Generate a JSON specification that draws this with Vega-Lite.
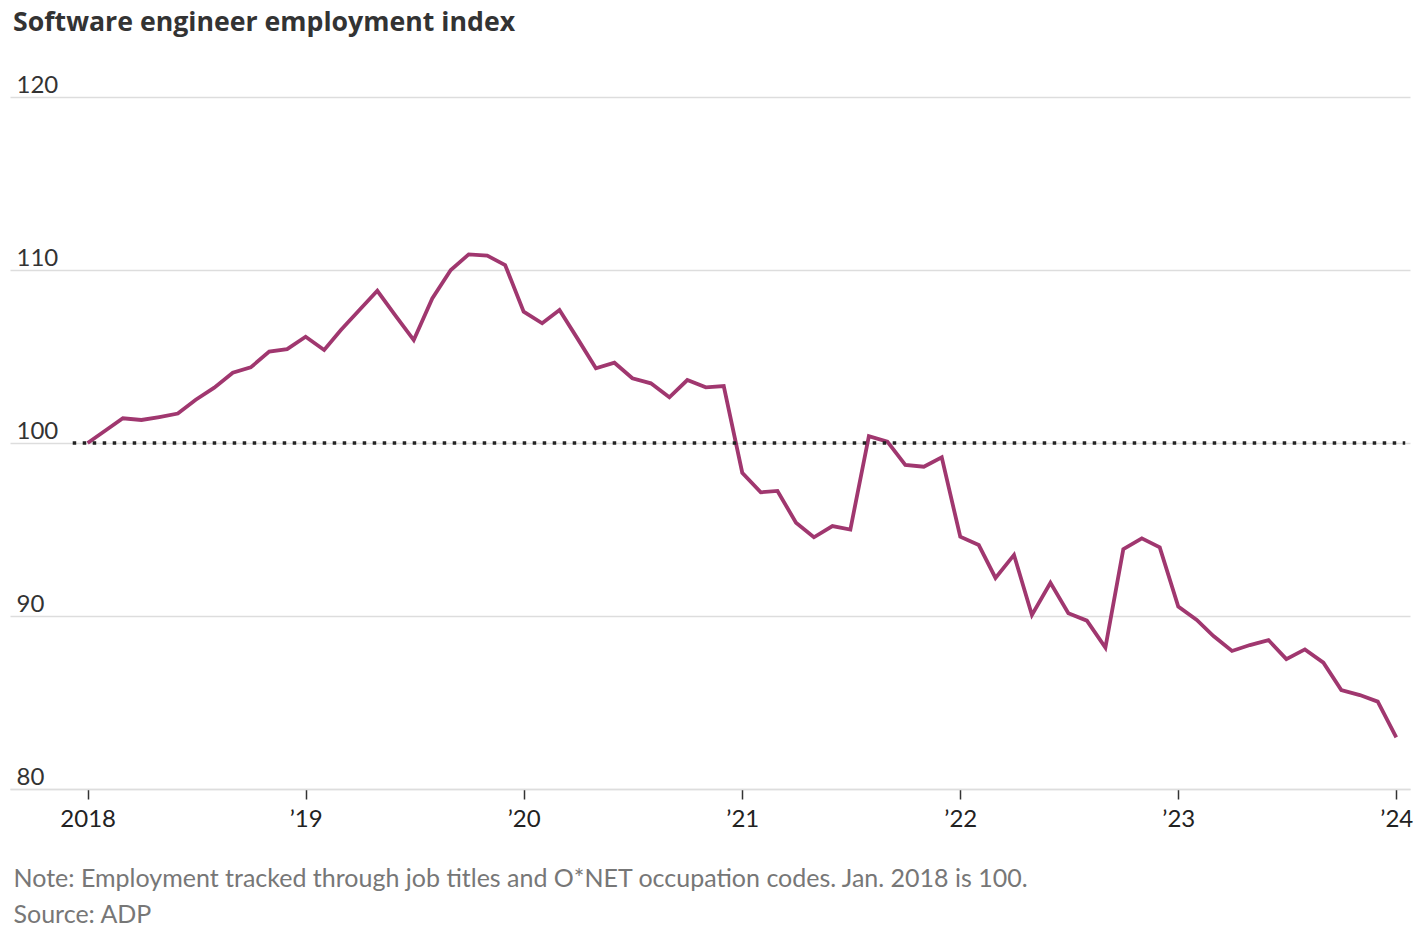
{
  "$schema": "https://vega.github.io/schema/vega-lite/v6.json",
  "autosize": {"type": "none"},
  "width": 1400,
  "height": 692,
  "padding": {"left": 10, "top": 97, "right": 14, "bottom": 147},
  "background": "white",
  "config": {"view": {"stroke": null}},
  "title": {
    "text": "Software engineer employment index",
    "anchor": "start",
    "frame": "group",
    "dx": 3,
    "font": "Open Sans",
    "fontSize": 26.7,
    "fontWeight": "bold",
    "color": "#333333",
    "offset": 36
  },
  "datasets": {
    "series": [
      {"date": "2018-01-01", "value": 100.0},
      {"date": "2018-02-01", "value": 100.75},
      {"date": "2018-03-01", "value": 101.43},
      {"date": "2018-04-01", "value": 101.33},
      {"date": "2018-05-01", "value": 101.5},
      {"date": "2018-06-01", "value": 101.7},
      {"date": "2018-07-01", "value": 102.5},
      {"date": "2018-08-01", "value": 103.2},
      {"date": "2018-09-01", "value": 104.06},
      {"date": "2018-10-01", "value": 104.37},
      {"date": "2018-11-01", "value": 105.28},
      {"date": "2018-12-01", "value": 105.43},
      {"date": "2019-01-01", "value": 106.14},
      {"date": "2019-02-01", "value": 105.38},
      {"date": "2019-03-01", "value": 106.53},
      {"date": "2019-04-01", "value": 107.69},
      {"date": "2019-05-01", "value": 108.8},
      {"date": "2019-06-01", "value": 107.34},
      {"date": "2019-07-01", "value": 105.95},
      {"date": "2019-08-01", "value": 108.36},
      {"date": "2019-09-01", "value": 110.0},
      {"date": "2019-10-01", "value": 110.9},
      {"date": "2019-11-01", "value": 110.83},
      {"date": "2019-12-01", "value": 110.29},
      {"date": "2020-01-01", "value": 107.59},
      {"date": "2020-02-01", "value": 106.92},
      {"date": "2020-03-01", "value": 107.69},
      {"date": "2020-04-01", "value": 105.99},
      {"date": "2020-05-01", "value": 104.32},
      {"date": "2020-06-01", "value": 104.64},
      {"date": "2020-07-01", "value": 103.74},
      {"date": "2020-08-01", "value": 103.45},
      {"date": "2020-09-01", "value": 102.64},
      {"date": "2020-10-01", "value": 103.64},
      {"date": "2020-11-01", "value": 103.22},
      {"date": "2020-12-01", "value": 103.29},
      {"date": "2021-01-01", "value": 98.28},
      {"date": "2021-02-01", "value": 97.15},
      {"date": "2021-03-01", "value": 97.23},
      {"date": "2021-04-01", "value": 95.39},
      {"date": "2021-05-01", "value": 94.55},
      {"date": "2021-06-01", "value": 95.2},
      {"date": "2021-07-01", "value": 95.0},
      {"date": "2021-08-01", "value": 100.4},
      {"date": "2021-09-01", "value": 100.08},
      {"date": "2021-10-01", "value": 98.73},
      {"date": "2021-11-01", "value": 98.63},
      {"date": "2021-12-01", "value": 99.17},
      {"date": "2022-01-01", "value": 94.58},
      {"date": "2022-02-01", "value": 94.1},
      {"date": "2022-03-01", "value": 92.2},
      {"date": "2022-04-01", "value": 93.53},
      {"date": "2022-05-01", "value": 90.06},
      {"date": "2022-06-01", "value": 91.92},
      {"date": "2022-07-01", "value": 90.16},
      {"date": "2022-08-01", "value": 89.73},
      {"date": "2022-09-01", "value": 88.17},
      {"date": "2022-10-01", "value": 93.86},
      {"date": "2022-11-01", "value": 94.49},
      {"date": "2022-12-01", "value": 93.97},
      {"date": "2023-01-01", "value": 90.54},
      {"date": "2023-02-01", "value": 89.77},
      {"date": "2023-03-01", "value": 88.84},
      {"date": "2023-04-01", "value": 87.98},
      {"date": "2023-05-01", "value": 88.32},
      {"date": "2023-06-01", "value": 88.61},
      {"date": "2023-07-01", "value": 87.51},
      {"date": "2023-08-01", "value": 88.07},
      {"date": "2023-09-01", "value": 87.3},
      {"date": "2023-10-01", "value": 85.72},
      {"date": "2023-11-01", "value": 85.43},
      {"date": "2023-12-01", "value": 85.05},
      {"date": "2024-01-01", "value": 82.99}
    ],
    "baseline": [
      {"start": "2017-12-07", "end": "2024-01-16", "value": 100}
    ]
  },
  "layer": [
    {
      "data": {"name": "series"},
      "mark": {"type": "line", "color": "#a0376f", "strokeWidth": 3.8, "strokeJoin": "miter", "strokeCap": "butt"},
      "encoding": {
        "x": {
          "field": "date",
          "type": "temporal",
          "scale": {
            "type": "utc",
            "domain": [
              {"year": 2017, "month": 8, "date": 24, "utc": true},
              {"year": 2024, "month": 1, "date": 24, "utc": true}
            ]
          },
          "axis": {
            "values": [
              {"year": 2018, "month": 1, "date": 1, "utc": true},
              {"year": 2019, "month": 1, "date": 1, "utc": true},
              {"year": 2020, "month": 1, "date": 1, "utc": true},
              {"year": 2021, "month": 1, "date": 1, "utc": true},
              {"year": 2022, "month": 1, "date": 1, "utc": true},
              {"year": 2023, "month": 1, "date": 1, "utc": true},
              {"year": 2024, "month": 1, "date": 1, "utc": true}
            ],
            "labelExpr": "utcFormat(datum.value, '%Y') == '2018' ? '2018' : '\u2019' + utcFormat(datum.value, '%y')",
            "grid": false,
            "domain": true,
            "domainColor": "#dddddd",
            "domainWidth": 1.5,
            "ticks": true,
            "tickColor": "#333333",
            "tickSize": 10,
            "tickWidth": 1.5,
            "labelFont": "Lato",
            "labelFontSize": 24,
            "labelColor": "#222222",
            "labelPadding": 8,
            "labelFlush": false,
            "labelOverlap": false,
            "title": [
              "Note: Employment tracked through job titles and O*NET occupation codes. Jan. 2018 is 100.",
              "Source: ADP"
            ],
            "titleFont": "Lato",
            "titleFontSize": 25,
            "titleFontWeight": "normal",
            "titleColor": "#777777",
            "titleAnchor": "start",
            "titleAlign": "left",
            "titleBaseline": "alphabetic",
            "titleX": 3,
            "titleY": 97,
            "titleLineHeight": 36
          }
        },
        "y": {
          "field": "value",
          "type": "quantitative",
          "scale": {"domain": [80, 120], "nice": false, "zero": false},
          "axis": {
            "values": [80, 90, 100, 110, 120],
            "grid": true,
            "gridColor": "#dddddd",
            "gridWidth": 1.5,
            "domain": false,
            "ticks": false,
            "tickSize": 0,
            "labelAlign": "left",
            "labelBaseline": "alphabetic",
            "labelPadding": -6,
            "labelOffset": -5,
            "labelFont": "Lato",
            "labelFontSize": 24,
            "labelColor": "#333333",
            "title": null
          }
        }
      }
    },
    {
      "data": {"name": "baseline"},
      "mark": {"type": "rule", "color": "#222222", "strokeWidth": 3.5, "strokeDash": [3.5, 6.5], "strokeCap": "butt"},
      "encoding": {
        "x": {"field": "start", "type": "temporal"},
        "x2": {"field": "end"},
        "y": {"field": "value", "type": "quantitative"}
      }
    }
  ]
}
